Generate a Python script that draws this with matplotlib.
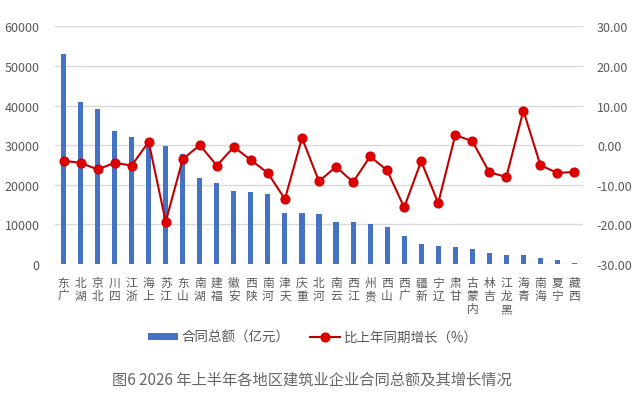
import matplotlib
matplotlib.use("Agg")
import matplotlib.pyplot as plt
import numpy as np
from matplotlib.lines import Line2D
from matplotlib.patches import Patch

plt.rcParams['font.family'] = ['Noto Sans CJK SC', 'DejaVu Sans']
plt.rcParams['axes.unicode_minus'] = False

regions = ["广东", "湖北", "北京", "四川", "浙江", "上海", "江苏", "山东", "湖南", "福建",
           "安徽", "陕西", "河南", "天津", "重庆", "河北", "云南", "江西", "贵州", "山西",
           "广西", "新疆", "辽宁", "甘肃", "内蒙古", "吉林", "黑龙江", "青海", "海南", "宁夏", "西藏"]
contract_total = [53000, 40800, 39050, 33600, 31950, 30200, 29750, 27650, 21700, 20300,
                  18400, 18000, 17500, 12750, 12750, 12600, 10400, 10400, 9950, 9300,
                  6850, 5000, 4550, 4250, 3550, 2550, 2050, 2050, 1500, 850, 250]
growth = [-4.0, -4.5, -6.2, -4.5, -5.2, 0.8, -19.4, -3.6, 0.0, -5.2,
          -0.5, -3.8, -7.1, -13.7, 1.8, -9.2, -5.5, -9.4, -2.9, -6.4,
          -15.8, -4.1, -14.7, 2.5, 1.0, -6.9, -8.1, 8.7, -5.1, -7.1, -6.8]
left_ticks = [0, 10000, 20000, 30000, 40000, 50000, 60000]
right_ticks = [-30, -20, -10, 0, 10, 20, 30]
bar_label = "合同总额（亿元）"
line_label = "比上年同期增长（%）"
caption = "图6 2026 年上半年各地区建筑业企业合同总额及其增长情况"

BAR = '#4472C4'
LINE = '#C00000'
TXT = '#595959'
GRID = '#D9D9D9'

fig = plt.figure(figsize=(6.41, 4.02), dpi=100)
ax = fig.add_axes([0.0858, 0.342, 0.9095 - 0.0858, 0.9316 - 0.342])
x = np.arange(len(regions))
ax.bar(x, contract_total, width=0.3, color=BAR, zorder=2)
ax.set_xlim(-0.5, len(regions) - 0.5)
ax.set_ylim(0, 60000)
ax.set_yticks(left_ticks)
ax.set_yticklabels([str(v) for v in left_ticks])
ax.yaxis.grid(True, color=GRID, linewidth=1.0, zorder=0)
ax.set_axisbelow(True)
for s in ax.spines.values():
    s.set_visible(False)
ax.tick_params(axis='y', length=0, pad=11, labelsize=9, labelcolor=TXT)
ax.set_xticks(x)
ax.set_xticklabels(['\n'.join(reversed(r)) for r in regions], fontsize=8.5,
                   color=TXT, linespacing=1.0, va='top')
ax.tick_params(axis='x', length=0, pad=9)

ax2 = ax.twinx()
ax2.plot(x, growth, color=LINE, linewidth=1.5, marker='o', markersize=6.3,
         markerfacecolor='#E00000', markeredgecolor='#D00000', zorder=3)
ax2.set_ylim(-30, 30)
ax2.set_yticks(right_ticks)
ax2.set_yticklabels([f"{v:.2f}" for v in right_ticks])
for s in ax2.spines.values():
    s.set_visible(False)
ax2.tick_params(axis='y', length=0, pad=10, labelsize=9, labelcolor=TXT)

handles = [Patch(facecolor=BAR, edgecolor='none'),
           Line2D([0], [0], color=LINE, linewidth=1.5, marker='o', markersize=6.3,
                  markerfacecolor='#E00000', markeredgecolor='#D00000')]
leg = fig.legend(handles, [bar_label, line_label], loc='center', bbox_to_anchor=(0.488, 0.159),
                 ncol=2, frameon=False, fontsize=9.7, labelcolor=TXT, handlelength=2.2,
                 handleheight=0.45, columnspacing=1.55, handletextpad=0.25)

fig.text(0.487, 0.055, caption, ha='center', va='center', fontsize=11, color='#666666')

fig.savefig('out.png', dpi=100)
